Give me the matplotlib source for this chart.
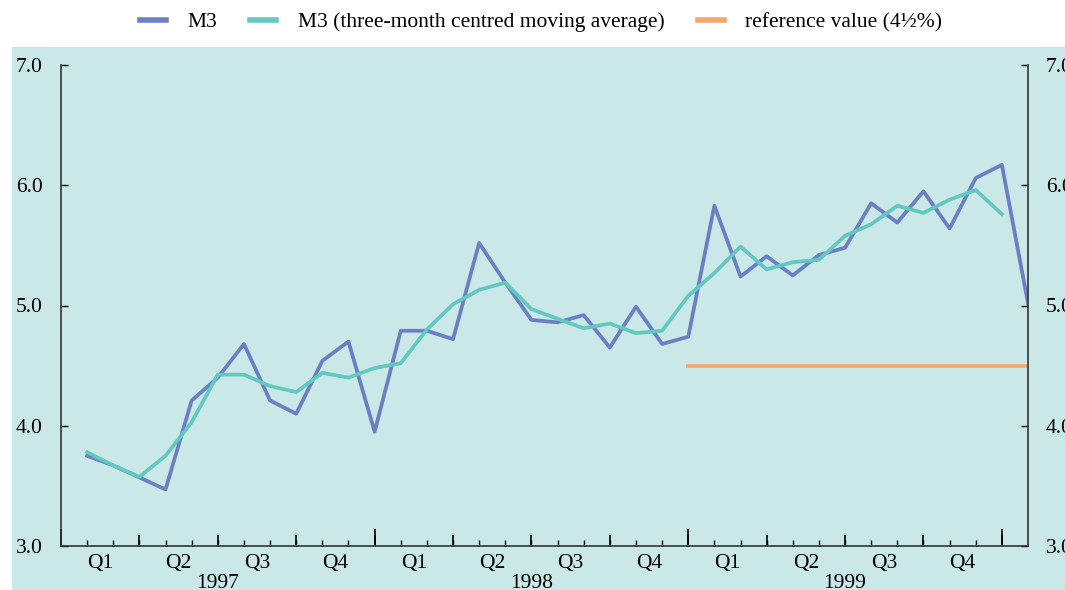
import numpy as np
import matplotlib
matplotlib.use("Agg")
import matplotlib.pyplot as plt
import matplotlib.transforms as mtransforms
from matplotlib.patches import Rectangle

plt.rcParams['font.family'] = ['Liberation Serif', 'DejaVu Serif']

# monthly data, Jan 1997 .. Jan 2000 (end-of-month positions 1..37)
m3 = [3.75, 3.67, 3.57, 3.47, 4.21, 4.40, 4.68, 4.21, 4.10, 4.54, 4.70, 3.95,
      4.79, 4.79, 4.72, 5.52, 5.19, 4.88, 4.86, 4.92, 4.65, 4.99, 4.68, 4.74,
      5.83, 5.24, 5.41, 5.25, 5.42, 5.48, 5.85, 5.69, 5.95, 5.64, 6.06, 6.17,
      5.02]
m3_ma = [3.78, 3.67, 3.575, 3.75, 4.03, 4.425, 4.425, 4.33, 4.28, 4.44, 4.40, 4.48,
         4.52, 4.80, 5.01, 5.13, 5.19, 4.97, 4.89, 4.81, 4.85, 4.77, 4.79, 5.08,
         5.27, 5.49, 5.30, 5.36, 5.38, 5.58, 5.675, 5.83, 5.77, 5.88, 5.96, 5.76]
ref_value = 4.5
ref_start, ref_end = 24, 37
years = ['1997', '1998', '1999']
quarters = ['Q1', 'Q2', 'Q3', 'Q4']

bg = '#cbe8e8'
c_m3 = '#6b80c2'
c_ma = '#62c9c0'
c_ref = '#f7a56c'
fs = 15.5

fig = plt.figure(figsize=(10.65, 5.9), dpi=100)
fig.patch.set_facecolor('white')
fig.patches.append(Rectangle((12 / 1065, 0), 1, 1 - 47 / 590, transform=fig.transFigure,
                             facecolor=bg, edgecolor='none', zorder=-10))

ax = fig.add_axes([61 / 1065, 1 - 546 / 590, (1028 - 61) / 1065, (546 - 65) / 590])
ax.set_facecolor(bg)

x_m3 = np.arange(1, len(m3) + 1)
x_ma = np.arange(1, len(m3_ma) + 1)
ax.plot(x_m3, m3, color=c_m3, lw=2.7, label='M3')
ax.plot(x_ma, m3_ma, color=c_ma, lw=2.7, label='M3 (three-month centred moving average)')
ax.plot([ref_start, ref_end], [ref_value, ref_value], color=c_ref, lw=2.7,
        label='reference value (4\u00bd%)')

ax.set_xlim(0, 37)
ax.set_ylim(3, 7)
ax.spines['top'].set_visible(False)
for s in ['left', 'right', 'bottom']:
    ax.spines[s].set_color('#333333')
    ax.spines[s].set_linewidth(1.2)

ax.set_yticks([3, 4, 5, 6, 7])
ax.yaxis.set_major_formatter(matplotlib.ticker.FormatStrFormatter('%.1f'))
ax.tick_params(axis='y', direction='in', length=5, width=1, pad=13, labelsize=fs,
               left=True, right=True, labelleft=True, labelright=True)

# x ticks: years (long), months (short), quarters via secondary axis
ax.set_xticks([0, 12, 24, 36])
ax.set_xticks(np.arange(0, 37), minor=True)
ax.tick_params(axis='x', which='major', direction='in', length=12, width=1.2, labelbottom=False)
ax.tick_params(axis='x', which='minor', direction='in', length=4, width=1)
sec = ax.secondary_xaxis('bottom')
sec.set_xticks(np.arange(0, 37, 3))
sec.tick_params(direction='in', length=8, width=1.2, labelbottom=False)
sec.spines['bottom'].set_visible(False)

trans = mtransforms.blended_transform_factory(ax.transData, ax.transAxes)
for i, yr in enumerate(years):
    for j, q in enumerate(quarters):
        ax.text(12 * i + 3 * j + 1.5, -0.037, q, transform=trans, ha='center', va='center',
                fontsize=fs)
    ax.text(12 * i + 6, -0.078, yr, transform=trans, ha='center', va='center', fontsize=fs)

leg = fig.legend(loc='center', bbox_to_anchor=(541 / 1065, 1 - 22 / 590), ncol=3, frameon=False,
                 fontsize=fs, handlelength=1.2, handletextpad=1.0, columnspacing=1.55)
for h in leg.legend_handles:
    h.set_linewidth(4)

fig.savefig('out.png', dpi=100, facecolor=fig.get_facecolor())
